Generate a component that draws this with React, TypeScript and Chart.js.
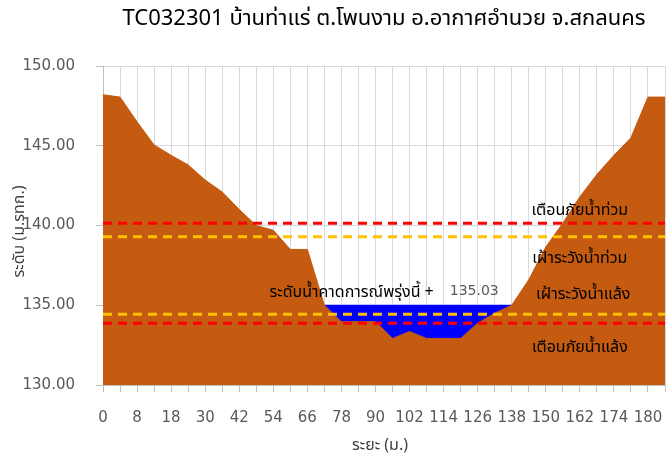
import React, { useEffect, useRef } from "react";
import { Chart, registerables } from "chart.js";

Chart.register(...registerables);

const titleText = "TC032301 บ้านท่าแร่ ต.โพนงาม อ.อากาศอำนวย จ.สกลนคร";
const yTitle = "ระดับ (ม.รทก.)";
const xTitle = "ระยะ (ม.)";

const categories = [
  "0", "4", "8", "12", "18", "24", "30", "36", "42", "48", "54", "60", "66", "72", "78", "84", "90",
  "96", "102", "108", "114", "120", "126", "132", "138", "144", "150", "156", "162", "168", "174", "177", "180", "182",
];

const groundLevels = [
  148.2, 148.05, 146.5, 145.05, 144.4, 143.8, 142.85, 142.1, 141.0, 140.0, 139.7, 138.5, 138.5, 135.0,
  133.97, 133.97, 133.97, 132.92, 133.35, 132.92, 132.92, 132.92, 133.87, 134.5, 135.0, 136.6, 138.65,
  140.15, 141.8, 143.2, 144.4, 145.5, 148.05, 148.05,
];

const forecastLevel = 135.03;
const waterLevels = [
  null, null, null, null, null, null, null, null, null, null, null, null, null,
  135.03, 135.03, 135.03, 135.03, 135.03, 135.03, 135.03, 135.03, 135.03, 135.03, 135.03, 135.03,
  null, null, null, null, null, null, null, null, null,
];

const floodWarning = 140.14;
const floodWatch = 139.3;
const droughtWatch = 134.43;
const droughtWarning = 133.87;

const yTicks = [130, 135, 140, 145, 150];

const labelFloodWarning = "เตือนภัยน้ำท่วม";
const labelFloodWatch = "เฝ้าระวังน้ำท่วม";
const labelDroughtWatch = "เฝ้าระวังน้ำแล้ง";
const labelDroughtWarning = "เตือนภัยน้ำแล้ง";
const labelForecast = "ระดับน้ำคาดการณ์พรุ่งนี้ +";

const THAI_FONT = "Tahoma, 'Noto Sans Thai', 'Leelawadee UI', 'DejaVu Sans', 'Noto Sans', sans-serif";

const textPlugin = {
  id: "customText",
  afterDatasetsDraw(chart: any) {
    const { ctx, scales } = chart;
    const x = scales.x;
    const y = scales.y;
    ctx.save();
    ctx.fillStyle = "#000000";
    ctx.font = `16px ${THAI_FONT}`;
    ctx.textAlign = "center";
    ctx.textBaseline = "middle";
    const lx = x.getPixelForValue(28.0);
    ctx.fillText(labelFloodWarning, lx, y.getPixelForValue(floodWarning) - 12);
    ctx.fillText(labelFloodWatch, lx, y.getPixelForValue(floodWatch) + 23);
    ctx.fillText(labelDroughtWatch, x.getPixelForValue(28.2), y.getPixelForValue(droughtWatch) - 19);
    ctx.fillText(labelDroughtWarning, lx, y.getPixelForValue(droughtWarning) + 25);
    const fy = y.getPixelForValue(forecastLevel) - 13;
    const vx = x.getPixelForValue(21.8);
    ctx.fillStyle = "#595959";
    ctx.font = `14px 'DejaVu Sans', sans-serif`;
    ctx.fillText(forecastLevel.toFixed(2), vx, fy);
    const vw = ctx.measureText(forecastLevel.toFixed(2)).width;
    ctx.fillStyle = "#000000";
    ctx.font = `16px ${THAI_FONT}`;
    ctx.textAlign = "right";
    ctx.fillText(labelForecast, vx - vw / 2 - 16, fy + 2);
    ctx.restore();
  },
  afterDraw(chart: any) {
    const { ctx, chartArea } = chart;
    const cx = (chartArea.left + chartArea.right) / 2;
    const cy = (chartArea.top + chartArea.bottom) / 2;
    ctx.save();
    ctx.textAlign = "center";
    ctx.textBaseline = "middle";
    ctx.fillStyle = "#000000";
    ctx.font = `22px ${THAI_FONT}`;
    ctx.fillText(titleText, cx, 21);
    ctx.fillStyle = "#404040";
    ctx.font = `16px ${THAI_FONT}`;
    ctx.fillText(xTitle, cx - 4, 447);
    ctx.translate(21, cy + 6);
    ctx.rotate(-Math.PI / 2);
    ctx.fillText(yTitle, 0, 0);
    ctx.restore();
  },
};

function dashed(value: number, color: string) {
  return {
    data: categories.map(() => value),
    borderColor: color,
    backgroundColor: color,
    borderWidth: 3,
    borderDash: [9, 6],
    pointRadius: 0,
    fill: false,
    order: 0,
  };
}

export default function App() {
  const ref = useRef<HTMLCanvasElement | null>(null);
  useEffect(() => {
    if (!ref.current) return;
    const chart = new Chart(ref.current, {
      type: "line",
      data: {
        labels: categories,
        datasets: [
          {
            data: groundLevels,
            borderColor: "#c55a11",
            backgroundColor: "#c55a11",
            borderWidth: 1,
            pointRadius: 0,
            fill: "start",
            tension: 0,
            order: 1,
          },
          {
            data: waterLevels,
            borderColor: "#0000ff",
            backgroundColor: "#0000ff",
            borderWidth: 0,
            pointRadius: 0,
            fill: "start",
            spanGaps: false,
            order: 2,
          },
          dashed(floodWarning, "#ff0000"),
          dashed(floodWatch, "#ffc000"),
          dashed(droughtWatch, "#ffc000"),
          dashed(droughtWarning, "#ff0000"),
        ] as any,
      },
      options: {
        animation: false,
        responsive: false,
        layout: { padding: { top: 66, right: 2, left: 0, bottom: 0 } },
        plugins: { legend: { display: false }, tooltip: { enabled: false }, title: { display: false } },
        scales: {
          x: {
            type: "category",
            offset: false,
            afterFit: (s: any) => { s.height = 78; s.paddingLeft = 0; s.paddingRight = 0; },
            grid: { color: "#d9d9d9", lineWidth: 1, tickLength: 7, tickColor: "#bfbfbf" },
            border: { color: "#bfbfbf" },
            ticks: {
              autoSkip: false,
              maxRotation: 0,
              minRotation: 0,
              padding: 17,
              color: "#595959",
              font: { family: "'DejaVu Sans', sans-serif", size: 15 },
              callback: (_v: any, i: number) => (i % 2 === 0 ? categories[i] : ""),
            },
          },
          y: {
            min: 130,
            max: 150,
            afterFit: (s: any) => { s.width = 103; },
            afterBuildTicks: (s: any) => { s.ticks = yTicks.map((v) => ({ value: v })); },
            grid: { color: "#d9d9d9", lineWidth: 1, tickLength: 7, tickColor: "#bfbfbf" },
            border: { color: "#bfbfbf" },
            ticks: {
              padding: 21,
              color: "#595959",
              font: { family: "'DejaVu Sans', sans-serif", size: 15 },
              callback: (v: any) => Number(v).toFixed(2),
            },
          },
        },
      } as any,
      plugins: [textPlugin],
    });
    return () => chart.destroy();
  }, []);
  return (
    <div style={{ position: "fixed", left: 0, top: 0, width: 667, height: 463, background: "#fff" }}>
      <canvas ref={ref} width={667} height={463} style={{ width: 667, height: 463, display: "block" }} />
    </div>
  );
}
